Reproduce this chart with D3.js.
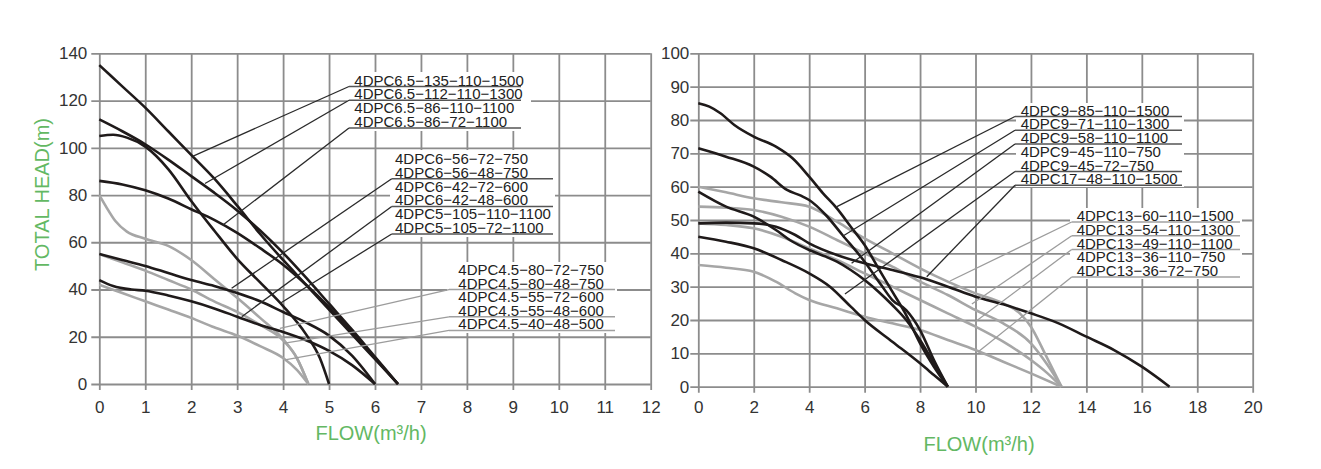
<!DOCTYPE html>
<html lang="en">
<head>
<meta charset="UTF-8" />
<title>4DPC pump curves</title>
<script src="https://cdn.jsdelivr.net/npm/d3@7"></script>
<style>
  body { margin: 0; background: #fff; }
  svg { display: block; font-family: "Liberation Sans", Arial, sans-serif; }
  .grid line { stroke: #8c8c8c; stroke-width: 1.8; }
  .grid path { display: none; }
  .grid text { fill: #333; font-size: 17px; }
  .curve { fill: none; stroke-width: 2.6; stroke-linejoin: round; }
  .dark { stroke: #1f1a1a; }
  .light { stroke: #a6a6a6; }
  .label { font-size: 15px; fill: #222; }
  .title { font-size: 20px; fill: #63b863; }
</style>
</head>
<body>
<div id="chart"></div>
<script>
// ---- data: [flow m3/h, head m] ----
const leftX = [0, 1, 2, 3, 4, 5, 6, 7, 8, 9, 10, 11, 12];
const leftY = [0, 20, 40, 60, 80, 100, 120, 140];
const rightX = [0, 2, 4, 6, 8, 10, 12, 14, 16, 18, 20];
const rightY = [0, 10, 20, 30, 40, 50, 60, 70, 80, 90, 100];

const p65_135 = [[0,135],[0.5,126],[1,117],[1.5,107],[2,97],[2.5,87],[3,75.5],[3.5,63.5],[4,52.5],[4.5,42],[5,31.5],[5.5,21],[6,10.5],[6.5,0]];
const p65_112 = [[0,112],[0.5,107],[1,101.5],[1.5,95],[2,88],[2.5,81],[3,73.5],[3.5,65],[4,55.5],[4.5,45],[5,34],[5.5,23],[6,11.5],[6.5,0]];
const p65_86 = [[0,86],[0.5,84.5],[1,82],[1.5,78.5],[2,74],[2.5,69.5],[3,64],[3.5,57.5],[4,50.5],[4.5,42],[5,32.5],[5.5,22],[6,11],[6.5,0]];
const p5_105 = [[0,105],[0.3,105.5],[0.6,104.3],[1,100.5],[1.5,91],[2,77.5],[2.5,65],[3,53],[3.5,43],[4,33],[4.5,21],[4.8,11],[5,0]];
const p6_56 = [[0,55],[0.5,52.5],[1,50],[1.5,47],[2,44],[2.5,41.5],[3,38.5],[3.5,35],[4,30.5],[4.5,26],[5,20.5],[5.5,12],[6,0]];
const p6_42 = [[0,44],[0.3,41.5],[0.7,40],[1,39.5],[1.5,37.5],[2,35],[2.5,32],[3,28.5],[3.5,25],[4,22],[4.5,18.5],[5,14],[5.5,8],[6,0]];
const p45_80 = [[0,80],[0.15,75],[0.35,69],[0.6,64.5],[1,61.5],[1.5,58.5],[2,52.5],[2.5,44.5],[3,36.5],[3.5,28],[4,19],[4.3,11],[4.55,0]];
const p45_55 = [[0,55],[0.5,51.5],[1,48],[1.5,44],[2,40],[2.5,35],[3,30.5],[3.5,25],[4,18.5],[4.3,11],[4.55,0]];
const p45_40 = [[0,42],[0.5,38.5],[1,35],[1.5,31.5],[2,28],[2.5,24],[3,20.5],[3.5,16],[4,11],[4.3,6],[4.55,0]];

const p9_85 = [[0,85],[0.4,84],[0.8,82],[1.3,78.5],[2,75],[2.8,72],[3.4,68.5],[4,63],[4.5,58],[5,53.5],[5.5,48],[6,42.5],[6.5,35.5],[7,28.5],[7.5,21.5],[8,13],[8.5,6],[9,0]];
const p9_71 = [[0,71.5],[1,69],[2,66],[2.6,63],[3.2,59],[3.7,57.3],[4,56],[4.6,51.5],[5.2,45.5],[6,37.5],[6.6,30.5],[7,26],[7.5,23],[8,17],[8.5,8],[9,0]];
const p9_58 = [[0,58.5],[1,54],[2,51],[2.8,47],[3.3,44],[4,41],[4.6,39],[5,37.5],[5.5,35],[6,32],[6.5,28.5],[7,24.5],[7.5,20],[8,14],[8.5,7],[9,0]];
const p9_45 = [[0,45],[1,43.5],[2,41.5],[3,38],[4,34],[4.75,30],[5.5,24],[6,20],[7,13.5],[8,7],[8.5,3.5],[9,0]];
const p17_48 = [[0,49],[1,49.2],[2,49],[2.8,48],[3.5,45.5],[4,43],[5,39.5],[6,37],[7,35],[8,32.8],[9,30],[10,27],[11,24.7],[12,22],[13,19],[14,15],[15,11],[16,6],[17,0]];
const p13_60 = [[0,60],[1,58.3],[2,56.5],[3,55.3],[4,54],[4.5,52],[5,49.5],[6,44.5],[7,40],[8,35.5],[9,31.5],[10,28],[11,25],[11.6,22],[12,18],[12.5,10],[13.1,0]];
const p13_54 = [[0,54],[1,53.7],[2,53],[3,51],[4,48],[5,44],[6,40],[7,36],[8,31.5],[9,27.5],[10,23],[11,19],[12,13],[12.6,6.5],[13.1,0]];
const p13_49 = [[0,49],[1,48.5],[2,47.5],[3,45],[4,41.5],[5,38],[6,34],[7,30],[8,26],[9,22],[10,18],[11,13.5],[12,8],[12.6,4],[13.1,0]];
const p13_36 = [[0,36.5],[1,35.7],[2,34.5],[2.8,31.5],[3.5,28],[4,26],[5,23.5],[6,21],[7,19],[8,17],[9,14],[10,11],[11,7.5],[12,4],[13.1,0]];

const leftDark = [p65_135, p65_112, p65_86, p5_105, p6_56, p6_42];
const leftLight = [p45_80, p45_55, p45_40];
const rightDark = [p9_85, p9_71, p9_58, p9_45, p17_48];
const rightLight = [p13_60, p13_54, p13_49, p13_36];

// model labels, and where each leader line touches a curve (null = no leader)
const labelsA = ['4DPC6.5-135-110-1500', '4DPC6.5-112-110-1300', '4DPC6.5-86-110-1100', '4DPC6.5-86-72-1100'];
const leadsA = [[2.03, 96.4], [2.3, 84.9], null, [2.69, 67.3]];
const labelsB = ['4DPC6-56-72-750', '4DPC6-56-48-750', '4DPC6-42-72-600', '4DPC6-42-48-600', '4DPC5-105-110-1100', '4DPC5-105-72-1100'];
const leadsB = [null, [2.88, 40.5], null, [3.1, 28.5], null, [3.93, 34.1]];
const labelsC = ['4DPC4.5-80-72-750', '4DPC4.5-80-48-750', '4DPC4.5-55-72-600', '4DPC4.5-55-48-600', '4DPC4.5-40-48-500'];
const leadsC = [null, [3.93, 23.5], null, [4.0, 17.2], [4.04, 10.2]];
const labelsD = ['4DPC9-85-110-1500', '4DPC9-71-110-1300', '4DPC9-58-110-1100', '4DPC9-45-110-750', '4DPC9-45-72-750', '4DPC17-48-110-1500'];
const leadsD = [[5.0, 54], [5.22, 45.2], [5.53, 37], null, [5.29, 27.8], [8.24, 33]];
const labelsE = ['4DPC13-60-110-1500', '4DPC13-54-110-1300', '4DPC13-49-110-1100', '4DPC13-36-110-750', '4DPC13-36-72-750'];
const leadsE = [[9.08, 31.7], [9.87, 24.8], [9.98, 19.4], null, [10.09, 10.4]];

// ---- drawing ----
const svg = d3.select('#chart').append('svg').attr('width', 1321).attr('height', 469);

function panel(o) {
  const x = d3.scaleLinear().domain(o.xDom).range(o.xRange);
  const y = d3.scaleLinear().domain(o.yDom).range(o.yRange);
  const h = o.yRange[0] - o.yRange[1];
  const w = o.xRange[1] - o.xRange[0];

  const gx = svg.append('g').attr('class', 'grid')
    .attr('transform', `translate(0,${o.yRange[0]})`)
    .call(d3.axisBottom(x).tickValues(o.xTicks).tickSize(-h).tickSizeOuter(0).tickPadding(o.xPad));
  gx.selectAll('line').attr('y1', 6);

  const gy = svg.append('g').attr('class', 'grid')
    .attr('transform', `translate(${o.xRange[0]},0)`)
    .call(d3.axisLeft(y).tickValues(o.yTicks).tickSize(-w).tickSizeOuter(0).tickPadding(o.yPad));
  gy.selectAll('line').attr('x1', -8);

  // white boxes behind the label blocks hide the grid
  o.groups.forEach(gr => {
    svg.append('rect').attr('x', gr.box[0]).attr('y', gr.box[1])
      .attr('width', gr.box[2] - gr.box[0]).attr('height', gr.box[3] - gr.box[1])
      .attr('fill', '#fff');
  });

  const line = d3.line().x(d => x(d[0])).y(d => y(d[1])).curve(d3.curveMonotoneX);
  svg.selectAll(null).data(o.light).enter().append('path')
    .attr('class', 'curve light').attr('d', line);
  svg.selectAll(null).data(o.dark).enter().append('path')
    .attr('class', 'curve dark').attr('d', line);

  o.groups.forEach(gr => {
    const col = gr.tone === 'dark' ? '#2a2a2a' : '#9c9c9c';
    gr.labels.forEach((t, i) => {
      const by = gr.y + i * gr.step;
      const lead = gr.leads[i];
      if (lead) {
        const uy = by + 1;
        svg.append('line').attr('x1', gr.ux0).attr('x2', gr.ux1)
          .attr('y1', uy).attr('y2', uy)
          .attr('stroke', gr.tone === 'dark' ? '#555' : '#a0a0a0').attr('stroke-width', 1.5);
        svg.append('line').attr('x1', gr.ux0).attr('y1', uy)
          .attr('x2', x(lead[0])).attr('y2', y(lead[1]))
          .attr('stroke', col).attr('stroke-width', 1.3);
      }
      svg.append('text').attr('class', 'label')
        .attr('x', gr.x).attr('y', by)
        .text(t.replace(/-/g, '\u2212'));
    });
  });
}

panel({
  xDom: [0, 12], xRange: [99.3, 650.7], yDom: [0, 140], yRange: [384, 53.3],
  xTicks: leftX, yTicks: leftY, xPad: 17, yPad: 12,
  dark: leftDark, light: leftLight,
  groups: [
    { labels: labelsA, leads: leadsA, tone: 'dark', x: 354.3, y: 85.5, step: 13.8, ux0: 349, ux1: 521, box: [347, 72, 531, 131] },
    { labels: labelsB, leads: leadsB, tone: 'dark', x: 395, y: 164, step: 13.8, ux0: 391.7, ux1: 553, box: [390, 150, 555, 237] },
    { labels: labelsC, leads: leadsC, tone: 'light', x: 458.3, y: 275, step: 13.6, ux0: 449, ux1: 615, box: [447, 262, 617, 333] }
  ]
});

panel({
  xDom: [0, 20], xRange: [698.3, 1252.7], yDom: [0, 100], yRange: [386.7, 53.3],
  xTicks: rightX, yTicks: rightY, xPad: 14.3, yPad: 9,
  dark: rightDark, light: rightLight,
  groups: [
    { labels: labelsD, leads: leadsD, tone: 'dark', x: 1020.7, y: 115.5, step: 13.75, ux0: 1015, ux1: 1182, box: [1016, 103, 1184, 187] },
    { labels: labelsE, leads: leadsE, tone: 'light', x: 1076.7, y: 221, step: 13.75, ux0: 1071.7, ux1: 1240, box: [1070, 208, 1242, 279] }
  ]
});

svg.append('text').attr('class', 'title')
  .attr('transform', 'translate(48.5,194.5) rotate(-90)')
  .attr('text-anchor', 'middle').text('TOTAL HEAD(m)');
svg.append('text').attr('class', 'title')
  .attr('x', 371).attr('y', 439.5).attr('text-anchor', 'middle').text('FLOW(m³/h)');
svg.append('text').attr('class', 'title')
  .attr('x', 979).attr('y', 451.3).attr('text-anchor', 'middle').text('FLOW(m³/h)');
</script>
</body>
</html>
